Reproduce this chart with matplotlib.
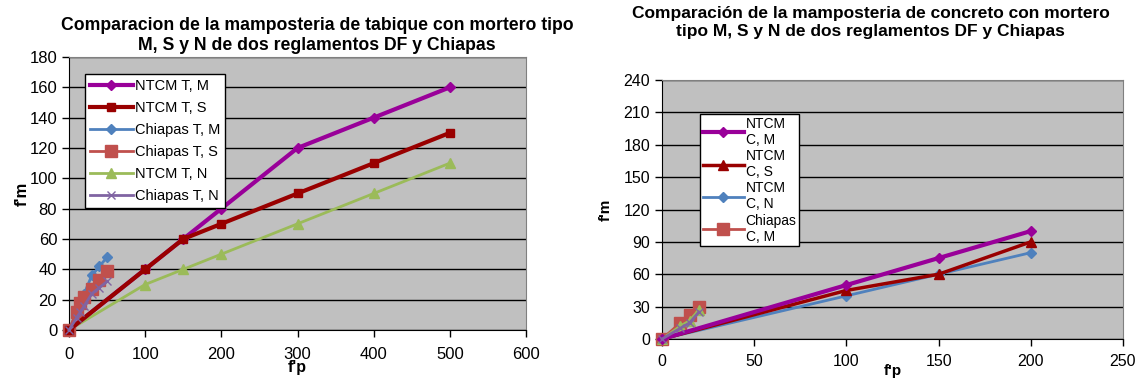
import matplotlib.pyplot as plt

plt.rcParams['font.family'] = ['Liberation Sans', 'DejaVu Sans']

# Tabique (left chart)
fp_ntcm_t = [0, 100, 150, 200, 300, 400, 500]
ntcm_t_m = [0, 40, 60, 80, 120, 140, 160]
ntcm_t_s = [0, 40, 60, 70, 90, 110, 130]
ntcm_t_n = [0, 30, 40, 50, 70, 90, 110]
fp_chis_t = [0, 10, 15, 20, 30, 40, 50]
chis_t_m = [0, 12, 18, 24, 36, 42, 48]
chis_t_s = [0, 12, 18, 22, 27, 33, 39]
chis_t_n = [0, 8, 12, 16, 24, 28, 32]

# Concreto (right chart)
fp_ntcm_c = [0, 100, 150, 200]
ntcm_c_m = [0, 50, 75, 100]
ntcm_c_s = [0, 45, 60, 90]
ntcm_c_n = [0, 40, 60, 80]
fp_chis_c = [0, 10, 15, 20]
chis_c_m = [0, 15, 22, 30]
chis_c_s = [0, 12, 17, 27]
chis_c_n = [0, 10, 15, 25]

PURPLE = '#990099'
DARKRED = '#990000'
BLUE = '#4F81BD'
RED = '#C0504D'
GREEN = '#9BBB59'
VIOLET = '#8064A2'

fig = plt.figure(figsize=(11.41, 3.81), dpi=100)
ax1 = fig.add_axes([69/1141, 1-330/381, (526-69)/1141, (330-57)/381])
ax2 = fig.add_axes([662/1141, 1-339/381, (1123-662)/1141, (339-80)/381])

for ax in (ax1, ax2):
    ax.set_facecolor('#C0C0C0')
    ax.grid(axis='y', color='black', linewidth=1)
    ax.set_axisbelow(True)
    for s in ('top', 'right'):
        ax.spines[s].set_color('#808080')
    for s in ('left', 'bottom'):
        ax.spines[s].set_color('black')
    ax.tick_params(direction='out', length=5, width=1)

# left chart
ax1.plot(fp_ntcm_t, ntcm_t_m, color=PURPLE, lw=3, marker='D', ms=5, label='NTCM T, M', zorder=4, clip_on=False)
ax1.plot(fp_ntcm_t, ntcm_t_s, color=DARKRED, lw=3, marker='s', ms=6, label='NTCM T, S', zorder=5, clip_on=False)
ax1.plot(fp_chis_t, chis_t_m, color=BLUE, lw=2, marker='D', ms=5, label='Chiapas T, M', zorder=3, clip_on=False)
ax1.plot(fp_chis_t, chis_t_s, color=RED, lw=2, marker='s', ms=8, label='Chiapas T, S', zorder=4, clip_on=False)
ax1.plot(fp_ntcm_t, ntcm_t_n, color=GREEN, lw=2, marker='^', ms=7, label='NTCM T, N', zorder=3, clip_on=False)
ax1.plot(fp_chis_t, chis_t_n, color=VIOLET, lw=2, marker='x', ms=6, mew=1, label='Chiapas T, N', zorder=5, clip_on=False)
ax1.set_xlim(0, 600)
ax1.set_ylim(0, 180)
ax1.set_xticks(range(0, 601, 100))
ax1.set_yticks(range(0, 181, 20))
ax1.tick_params(labelsize=12)
ax1.tick_params(axis='x', pad=7)
ax1.set_xlabel("f'p", fontsize=11.5, fontweight='bold', labelpad=-1)
ax1.set_ylabel("f'm", fontsize=12, fontweight='bold', labelpad=0)
ax1.set_title('Comparacion de la mamposteria de tabique con mortero tipo\n'
              'M, S y N de dos reglamentos DF y Chiapas',
              fontsize=12.7, fontweight='bold', pad=5, x=0.543)
leg1 = ax1.legend(loc='upper left', bbox_to_anchor=(0.018, 0.965), fontsize=10.5,
                  fancybox=False, framealpha=1, edgecolor='black', handlelength=3,
                  handletextpad=0.1, borderpad=0.35, labelspacing=0.55)
leg1.get_frame().set_linewidth(1)

# right chart
ax2.plot(fp_ntcm_c, ntcm_c_m, color=PURPLE, lw=3, marker='D', ms=5, label='NTCM\nC, M', zorder=5, clip_on=False)
ax2.plot(fp_ntcm_c, ntcm_c_s, color=DARKRED, lw=2.5, marker='^', ms=7, label='NTCM\nC, S', zorder=4, clip_on=False)
ax2.plot(fp_ntcm_c, ntcm_c_n, color=BLUE, lw=2, marker='D', ms=5, label='NTCM\nC, N', zorder=3, clip_on=False)
ax2.plot(fp_chis_c, chis_c_m, color=RED, lw=2, marker='s', ms=8, label='Chiapas\nC, M', zorder=3, clip_on=False)
ax2.plot(fp_chis_c, chis_c_s, color=GREEN, lw=2, marker='^', ms=7, zorder=4, clip_on=False)
ax2.plot(fp_chis_c, chis_c_n, color=VIOLET, lw=2, marker='x', ms=6, mew=1, zorder=5, clip_on=False)
ax2.set_xlim(0, 250)
ax2.set_ylim(0, 240)
ax2.set_xticks(range(0, 251, 50))
ax2.set_yticks(range(0, 241, 30))
ax2.tick_params(labelsize=11.5)
ax2.tick_params(axis='x', pad=6)
ax2.set_xlabel("f'p", fontsize=11, fontweight='bold', labelpad=-4)
ax2.set_ylabel("f'm", fontsize=11, fontweight='bold', labelpad=8)
ax2.set_title('Comparación de la mamposteria de concreto con mortero\n'
              'tipo M, S y N de dos reglamentos DF y Chiapas',
              fontsize=12.5, fontweight='bold', pad=32, x=0.453)
leg2 = ax2.legend(loc='upper left', bbox_to_anchor=(0.067, 0.896), fontsize=10,
                  fancybox=False, framealpha=1, edgecolor='black', handlelength=3,
                  handletextpad=0.1, borderpad=0.2, labelspacing=0.15)
leg2.get_frame().set_linewidth(1)

fig.savefig('out.png', dpi=100)
